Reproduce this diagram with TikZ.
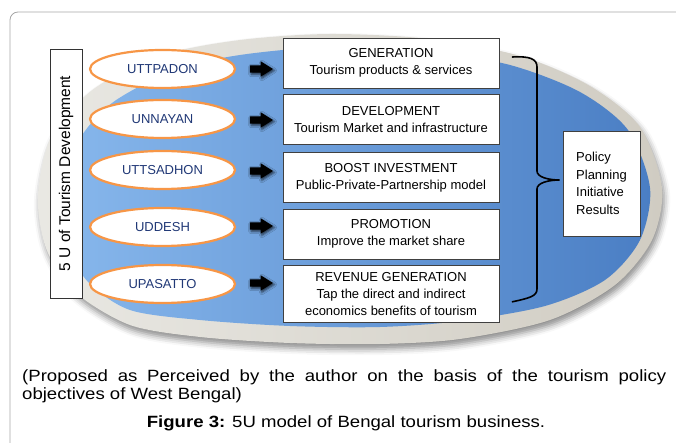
\documentclass[tikz,border=0pt]{standalone}
\usepackage{fontspec}
\setmainfont{Liberation Sans}
\newfontfamily\capfont{Liberation Sans}[FakeStretch=1.14]
\usetikzlibrary{shapes.geometric, shapes.arrows, shadows.blur, positioning, calc}

\definecolor{ringL}{RGB}{233,232,227}
\definecolor{ringD}{RGB}{208,204,194}
\definecolor{blueL}{RGB}{135,183,236}
\definecolor{blueD}{RGB}{74,126,196}
\definecolor{uorange}{RGB}{247,150,70}
\definecolor{unavy}{RGB}{32,56,118}

\tikzset{
  uoval/.style={ellipse, draw=uorange, line width=2.2pt, fill=white, minimum width=145pt, minimum height=38pt, inner sep=0pt, text=unavy, font=\fontsize{13}{15}\selectfont},
  goal/.style={draw=black!75, line width=0.7pt, fill=white, minimum width=216pt, minimum height=50pt, inner sep=2pt, align=center, font=\fontsize{13}{17}\selectfont},
  push/.style={single arrow, fill=black, minimum height=23pt, inner sep=3.5pt, single arrow head extend=4pt, single arrow tip angle=64,
    blur shadow={shadow xshift=1.2pt, shadow yshift=-1.5pt, shadow opacity=75, shadow blur radius=2.5pt}},
  brc/.style={line width=1.6pt, line cap=round}
}

\begin{document}
\begin{tikzpicture}[x=1pt, y=-1pt]
\useasboundingbox (0,0) rectangle (676,443);
% page frame
\draw[black!35, line width=0.8pt, rounded corners=8pt] (10,470) -- (10,12) -- (700,12);

% grey rim with its shadow, then the blue disc
\path[blur shadow={shadow xshift=2pt, shadow yshift=-5pt, shadow opacity=45, shadow blur radius=6pt}, left color=ringL, right color=ringD]
  plot[smooth cycle] coordinates {(38,195) (52,135) (95,88) (163,55) (240,40) (330,34) (430,39) (520,56) (590,86) (640,127) (662,188) (652,240) (615,285) (550,320) (460,339) (380,344) (290,343) (200,337) (130,325) (75,292) (46,248)};
\path[left color=blueL, right color=blueD]
  plot[smooth cycle] coordinates {(62,200) (76,145) (112,103) (175,70) (240,55) (330,47) (430,52) (510,65) (580,92) (628,130) (650,188) (640,240) (605,280) (545,306) (460,321) (380,327) (290,326) (200,320) (130,310) (88,282) (68,245)};

% side label
\node[draw=black!80, line width=0.7pt, fill=white, rotate=90, minimum width=249pt, minimum height=32pt, inner sep=0pt, font=\fontsize{15.5}{17}\selectfont] (ulab) at (66,173.5) {5 U of Tourism Development};

% the five U
\node[uoval] (u1) at (162.5,69) {UTTPADON};
\node[uoval] (u2) at (162.5,119) {UNNAYAN};
\node[uoval] (u3) at (162.5,170) {UTTSADHON};
\node[uoval] (u4) at (162.5,227) {UDDESH};
\node[uoval] (u5) at (162.5,284) {UPASATTO};

\node[push] (p1) at (258.5,69) {};
\node[push] (p2) at (258.5,120) {};
\node[push] (p3) at (258.5,171) {};
\node[push] (p4) at (258.5,226) {};
\node[push] (p5) at (258.5,283) {};

% goals
\node[goal] (gen) at (391,63) {GENERATION\\Tourism products \& services};
\node[goal, below=6pt of gen] (dev) {DEVELOPMENT\\Tourism Market and infrastructure};
\node[goal, below=7pt of dev] (inv) {BOOST INVESTMENT\\Public-Private-Partnership model};
\node[goal, below=6pt of inv] (pro) {PROMOTION\\Improve the market share};
\node[goal, below=6pt of pro, minimum height=57pt] (rev) {REVENUE GENERATION\\Tap the direct and indirect\\economics benefits of tourism};

\node[draw=black!75, line width=0.7pt, fill=white, minimum width=77pt, minimum height=105pt, align=left, font=\fontsize{13}{17.5}\selectfont] (pol) at (601.5,183.5) {Policy\\Planning\\Initiative\\Results};

% brace
\coordinate (bt) at ($(gen.east)+(13pt,6pt)$);
\coordinate (bb) at ($(rev.east)+(13pt,-7.5pt)$);
\coordinate (btip) at ($(pol.west)+(-3pt,3.5pt)$);
\draw[brc] (bt) .. controls (530,56) and (537,59) .. (537,67) -- (537,171)
  .. controls (537,177) and (548,180) .. (btip)
  .. controls (548,180) and (537,183) .. (537,189) -- (537,289)
  .. controls (537,296) and (530,298) .. (bb);

% caption
\node[anchor=north west, inner sep=0pt, align=left, font=\capfont\fontsize{16.3}{18.5}\selectfont] (note) at (22,369)
  {\makebox[644pt][s]{(Proposed as Perceived by the author on the basis of the tourism policy}\\objectives of West Bengal)};
\node[anchor=base, inner sep=0pt, font=\capfont\fontsize{16.3}{18}\selectfont] (fig) at (346,427) {\textbf{Figure 3:} 5U model of Bengal tourism business.};
\end{tikzpicture}
\end{document}
